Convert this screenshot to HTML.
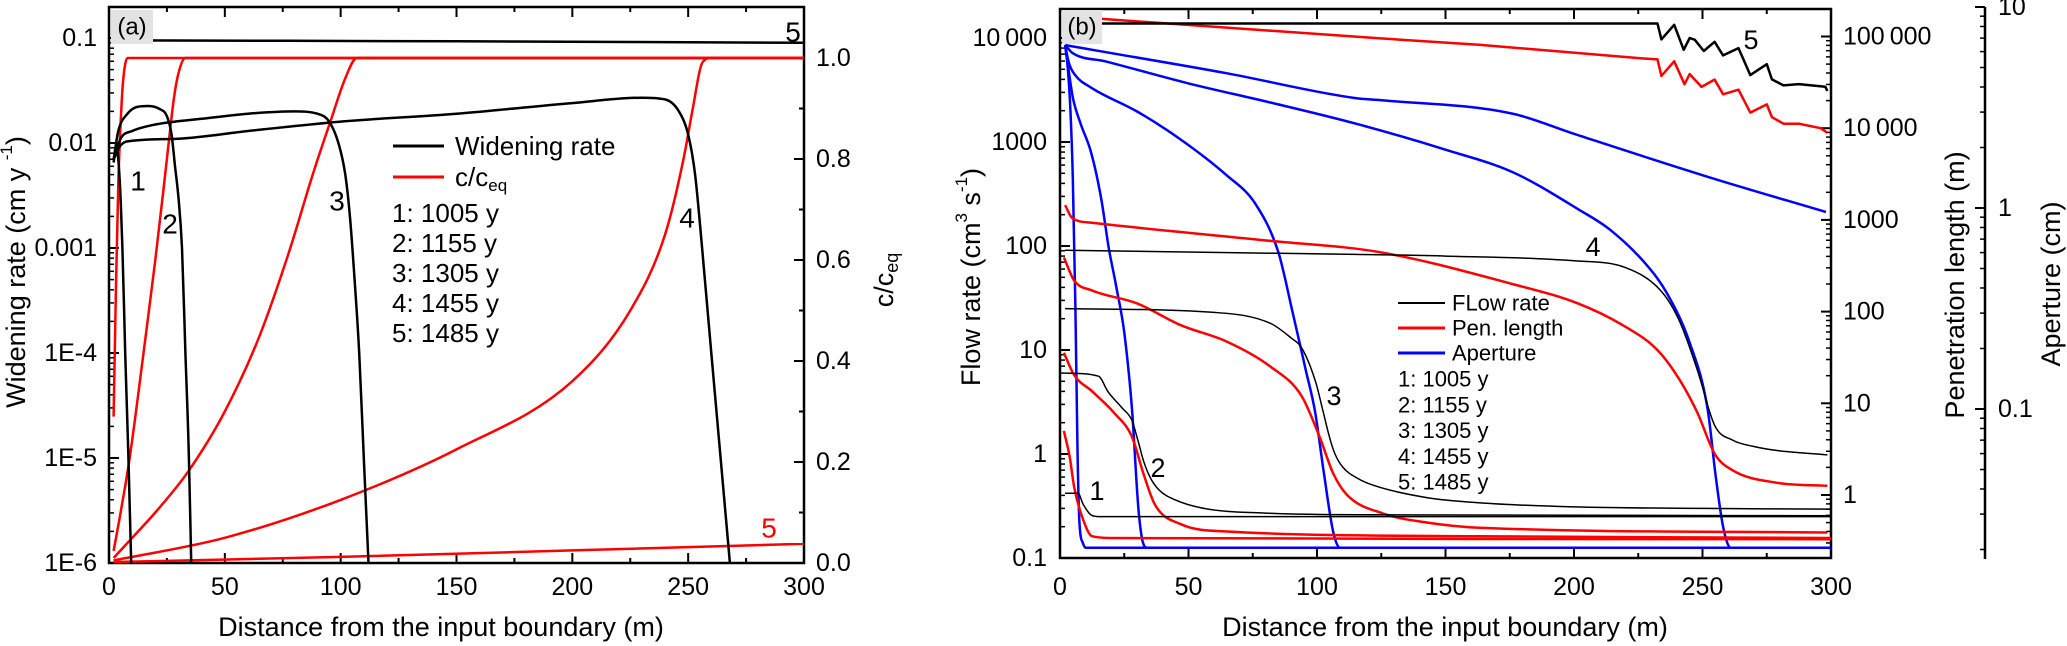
<!DOCTYPE html>
<html><head><meta charset="utf-8"><style>
html,body{margin:0;padding:0;background:#fff;}
svg{display:block;font-family:"Liberation Sans",Arial,sans-serif;}
</style></head><body>
<svg id="fig" width="2067" height="646" viewBox="0 0 2067 646" xmlns="http://www.w3.org/2000/svg">
<defs>
<clipPath id="clipA"><rect x="109" y="7" width="695" height="556"/></clipPath>
<clipPath id="clipB"><rect x="1060" y="9" width="771" height="549"/></clipPath>
</defs>
<g id="panelA"></g>
<g id="panelB"></g>
</svg>
<script>
// ---------- Panel (a) data ----------
const wr1X=[2,3,4,5,5.8,7,8.3,9.6];
const wr1Y=[0.0065,0.009,0.007,0.003,0.001,1e-4,1.2e-5,1e-6];
const wr2X=[2,4,8,12,17,22,25,27,28.5,30,31.5,33,34.5,35.5];
const wr2Y=[0.007,0.013,0.019,0.022,0.0225,0.021,0.018,0.012,0.006,0.003,0.001,1e-4,1e-5,1e-6];
const wr3X=[2,5,10,20,40,60,80,90,95,99,102,104,106,108,110,112];
const wr3Y=[0.007,0.011,0.013,0.015,0.017,0.019,0.020,0.019,0.016,0.01,0.005,0.002,5e-4,1e-4,1e-5,1e-6];
const wr4X=[2,5,10,30,60,100,150,200,230,240,246,250,253,256,260,264,268];
const wr4Y=[0.007,0.0095,0.0105,0.011,0.013,0.016,0.019,0.024,0.027,0.026,0.02,0.012,0.005,0.001,1e-4,1e-5,1e-6];
const wr5X=[4,150,300];
const wr5Y=[0.095,0.093,0.09];
const cc1X=[2,3,4,5,6,8,300];
const cc1Y=[0.29,0.55,0.75,0.87,0.95,1.0,1.0];
const cc2X=[2,5,9,15,20,25,28,30,33,300];
const cc2Y=[0.024,0.1,0.21,0.42,0.6,0.8,0.92,0.97,1.0,1.0];
const cc3X=[2,10,20,34,50,65,78,88,96,102,107,300];
const cc3Y=[0.01,0.05,0.1,0.18,0.3,0.45,0.62,0.77,0.88,0.96,1.0,1.0];
const cc4X=[2,50,100,150,200,225,240,248,252,256,260,300];
const cc4Y=[0.005,0.05,0.125,0.225,0.36,0.5,0.65,0.8,0.9,0.99,1.0,1.0];
const cc5X=[2,100,200,300];
const cc5Y=[0.002,0.012,0.025,0.038];
const xTicksA=[0,50,100,150,200,250,300];
const yTicksA=["1E-6","1E-5","1E-4","0.001","0.01","0.1"];
const cTicks=["0.0","0.2","0.4","0.6","0.8","1.0"];
// ---------- Panel (b) data ----------
const q1X=[2,7,9,12,15,300];
const q1Y=[0.42,0.42,0.33,0.26,0.25,0.25];
const q2X=[2,15,18.6,24,28,30.5,32.5,35,38.6,45,56,80,120,300];
const q2Y=[6.0,5.6,4.0,2.8,2.1,1.3,0.86,0.6,0.45,0.36,0.3,0.27,0.26,0.255];
const q3X=[2,60,82,90,94,99.5,102,104.7,107,110,116,122,143,163,200,250,300];
const q3Y=[25,23,18,13,10.5,4.9,2.8,1.5,1.0,0.75,0.58,0.5,0.38,0.34,0.31,0.30,0.295];
const q4X=[2,115,150,200,220,234,241,248,254.8,261.7,270,279,298.6];
const q4Y=[91,83,80,72,62,36.6,19,6.4,1.87,1.36,1.18,1.08,0.98];
const q5X=[2,232.5,234,239,242.7,245,247,250.5,254.7,258,264,268.6,275,277,281.5,287.5,297.8,298.6];
const q5Y=[13800,13800,9700,13400,7700,10000,9600,7500,9200,6800,8000,4400,5600,4000,3500,3600,3400,3100];
const L1X=[1.5,3.8,5.5,9,12.5,20,300];
const L1Y=[5.0,2.57,1.23,0.54,0.355,0.34,0.33];
const L2X=[1.5,5.5,12.5,21,28,32.5,37,47,65,163,300];
const L2Y=[35.5,20.4,13.5,7.9,4.3,1.7,0.78,0.48,0.40,0.355,0.34];
const L3X=[1.5,5.5,12.5,30,47,65,82,94,101,106.4,111.7,125.6,143,163,298.6];
const L3Y=[390,219,170,123,71,47,25,12,4.3,1.7,1.0,0.63,0.5,0.44,0.39];
const L4X=[2,4.7,12.5,82,124,176,201.5,219,232.5,241,248,254.8,261.7,279,298.6];
const L4Y=[1450,1050,930,590,447,200,123,71,38,18.2,7.9,2.8,1.86,1.36,1.26];
const L5X=[2,124,163,227,232.5,234,239,243,245,249.6,254.7,258,264,268.6,275,277,281.5,287.5,296,298.6];
const L5Y=[166000,95500,81300,57500,56200,37200,53700,30200,38900,28200,33900,23400,26300,14800,18200,13200,11200,11200,10000,8900];
const A1X=[2,3,4,5,6,6.8,7.5,9,10,300];
const A1Y=[6.46,5.01,3.16,1.41,0.32,0.063,0.028,0.0214,0.0204,0.0204];
const A2X=[2,5,8,12,16,19,22,25,28,30.5,32,34,300];
const A2Y=[6.46,3.55,2.63,1.91,1.12,0.63,0.40,0.24,0.1,0.032,0.0224,0.0204,0.0204];
const A3X=[2,3.5,6,12,30,47,65,76,85,90.6,95.7,99.2,102.7,106.3,109,300];
const A3Y=[6.46,5.25,4.57,3.98,3.02,2.19,1.45,1.05,0.60,0.30,0.155,0.098,0.048,0.0245,0.0204,0.0204];
const A4X=[2,5,17.6,50,80,115,150,176,202,214,228,236,245,252,255,258,261,300];
const A4Y=[6.46,5.89,5.37,4.17,3.39,2.63,1.95,1.51,0.98,0.78,0.525,0.38,0.214,0.1,0.048,0.026,0.0204,0.0204];
const A5X=[2,15.6,65,115,125,176,200,252,298];
const A5Y=[6.46,6.03,4.68,3.52,3.44,2.95,2.34,1.43,0.955];
const flowTicks=["0.1","1","10","100","1000","10\u2009000"];
const penTicks=["1","10","100","1000","10\u2009000","100\u2009000"];
const apTicks=["0.1","1","10"];

const NS="http://www.w3.org/2000/svg";
const gA=document.getElementById('panelA');
const gB=document.getElementById('panelB');
function mk(tag,attrs,parent){const e=document.createElementNS(NS,tag);for(const k in attrs)e.setAttribute(k,attrs[k]);parent.appendChild(e);return e;}
const lg=Math.log10;
const xa=d=>109+d*(695/300);
const ya=v=>563-(lg(v)+6)*105;
const yc=v=>563-v*505;
const xb=d=>1060+d*(771/300);
const yq=v=>558-(lg(v)+1)*104;
const yL=v=>495-lg(v)*91.7;
const yA=v=>208-lg(v)*201;

function smoothPath(P){
  const n=P.length;
  if(n<3){return P.map((p,i)=>(i?'L':'M')+p[0].toFixed(1)+','+p[1].toFixed(1)).join('');}
  const d=[],m=[];
  for(let i=0;i<n-1;i++){const dx=P[i+1][0]-P[i][0];d.push(dx?(P[i+1][1]-P[i][1])/dx:0);}
  m[0]=d[0];m[n-1]=d[n-2];
  for(let i=1;i<n-1;i++){m[i]=(d[i-1]*d[i]<=0)?0:(d[i-1]+d[i])/2;}
  for(let i=0;i<n-1;i++){
    if(d[i]===0){m[i]=0;m[i+1]=0;continue;}
    const a=m[i]/d[i],b=m[i+1]/d[i],s=a*a+b*b;
    if(s>9){const t=3/Math.sqrt(s);m[i]=t*a*d[i];m[i+1]=t*b*d[i];}
  }
  let s='M'+P[0][0].toFixed(1)+','+P[0][1].toFixed(1);
  for(let i=0;i<n-1;i++){
    const h=(P[i+1][0]-P[i][0])/3;
    s+='C'+(P[i][0]+h).toFixed(1)+','+(P[i][1]+m[i]*h).toFixed(1)+' '+(P[i+1][0]-h).toFixed(1)+','+(P[i+1][1]-m[i+1]*h).toFixed(1)+' '+P[i+1][0].toFixed(1)+','+P[i+1][1].toFixed(1);
  }
  return s;
}
function series(parent,xs,ys,fx,fy,color,w,name,clip,linear){
  const P=xs.map((x,i)=>[fx(x),fy(ys[i])]);
  let d;
  if(linear){d=P.map((p,i)=>(i?'L':'M')+p[0].toFixed(1)+','+p[1].toFixed(1)).join('');}
  else d=smoothPath(P);
  const p=mk('path',{d:d,fill:'none',stroke:color,'stroke-width':w,'stroke-linejoin':'round','clip-path':'url(#'+clip+')'},parent);
  
  
  return p;
}
function txt(parent,x,y,s,size,anchor,name,color){
  const t=mk('text',{x:x,y:y,'font-size':size,'text-anchor':anchor||'start','dominant-baseline':'central',fill:color||'#000'},parent);
  t.textContent=s;
  
  
  return t;
}
function ln(parent,x1,y1,x2,y2,w,color){return mk('line',{x1:x1,y1:y1,x2:x2,y2:y2,stroke:color||'#000','stroke-width':w||2},parent);}

// ================= Panel A =================
(function(){
  const g=gA;
  const fr=mk('rect',{x:109,y:7,width:695,height:556,fill:'none',stroke:'#000','stroke-width':2.5},g);
  
  
  for(let d=0;d<=300;d+=25){
    const L=(d%50===0)?10:5;
    ln(g,xa(d),563,xa(d),563-L,2); ln(g,xa(d),7,xa(d),7+L,2);
  }
  xTicksA.forEach(v=>{txt(g,xa(v),587,String(v),25,'middle','x-tick-label-a');});
  for(let e=-6;e<=-1;e++){
    ln(g,109,ya(Math.pow(10,e)),119,ya(Math.pow(10,e)),2);
    for(let m=2;m<=9;m++){const v=m*Math.pow(10,e);const y=ya(v);if(y>7)ln(g,109,y,114,y,1.5);}
  }
  yTicksA.forEach((s,i)=>{txt(g,97,ya(Math.pow(10,i-6)),s,25,'end','y-tick-label-a');});
  for(let i=0;i<=10;i++){const v=i/10;const L=(i%2===0)?10:5;ln(g,804,yc(v),804-L,yc(v),2);}
  cTicks.forEach(s=>{txt(g,816,yc(parseFloat(s)),s,25,'start','c-tick-label');});
  const t1=mk('text',{x:0,y:0,'font-size':27,'text-anchor':'middle','dominant-baseline':'central',transform:'translate(16,272) rotate(-90)'},g);
  t1.innerHTML='Widening rate (cm y <tspan dy="-10" font-size="17">-1</tspan><tspan dy="10">)</tspan>';
  
  
  const t2=mk('text',{x:0,y:0,'font-size':27,'text-anchor':'middle','dominant-baseline':'central',transform:'translate(884,280) rotate(-90)'},g);
  t2.innerHTML='c/c<tspan dy="8" font-size="18">eq</tspan>';
  
  
  txt(g,441,627,'Distance from the input boundary (m)',27,'middle','x-axis-title-a');
  series(g,cc1X,cc1Y,xa,yc,'#ff0000',2.5,'c-curve-1','clipA');
  series(g,cc2X,cc2Y,xa,yc,'#ff0000',2.5,'c-curve-2','clipA');
  series(g,cc3X,cc3Y,xa,yc,'#ff0000',2.5,'c-curve-3','clipA');
  series(g,cc4X,cc4Y,xa,yc,'#ff0000',2.5,'c-curve-4','clipA');
  series(g,cc5X,cc5Y,xa,yc,'#ff0000',2.5,'c-curve-5','clipA');
  series(g,wr1X,wr1Y,xa,ya,'#000',2.5,'widening-curve-1','clipA');
  series(g,wr2X,wr2Y,xa,ya,'#000',2.5,'widening-curve-2','clipA');
  series(g,wr3X,wr3Y,xa,ya,'#000',2.5,'widening-curve-3','clipA');
  series(g,wr4X,wr4Y,xa,ya,'#000',2.5,'widening-curve-4','clipA');
  series(g,wr5X,wr5Y,xa,ya,'#000',2.5,'widening-curve-5','clipA');
  txt(g,138,181,'1',28,'middle','curve-label-1');
  txt(g,170,224,'2',28,'middle','curve-label-2');
  txt(g,337,201,'3',28,'middle','curve-label-3');
  txt(g,687,218,'4',28,'middle','curve-label-4');
  txt(g,793,32,'5',28,'middle','curve-label-5');
  txt(g,769,528,'5',28,'middle','c-curve-label-5','#ff0000');
  const bx=mk('rect',{x:111,y:10,width:42,height:34,fill:'#e3e3e3'},g);
  
  
  txt(g,132,27,'(a)',24,'middle','panel-label-a');
  ln(g,393,146,444,146,3,'#000'); txt(g,455,146,'Widening rate',26,'start','legend-widening');
  ln(g,393,177,444,177,3,'#ff0000');
  const lc=mk('text',{x:455,y:177,'font-size':26,'dominant-baseline':'central'},g);
  lc.innerHTML='c/c<tspan dy="8" font-size="17">eq</tspan>';
  
  
  ['1: 1005 y','2: 1155 y','3: 1305 y','4: 1455 y','5: 1485 y'].forEach((s,i)=>{txt(g,392,213+i*30,s,26,'start','legend-time-'+(i+1));});
})();

// ================= Panel B =================
(function(){
  const g=gB;
  const fr=mk('rect',{x:1060,y:9,width:771,height:549,fill:'none',stroke:'#000','stroke-width':2.5},g);
  
  
  for(let d=0;d<=300;d+=25){
    const L=(d%50===0)?10:5;
    ln(g,xb(d),558,xb(d),558-L,2); ln(g,xb(d),9,xb(d),9+L,2);
  }
  [0,50,100,150,200,250,300].forEach(v=>{txt(g,xb(v),587,String(v),25,'middle','x-tick-label-b');});
  for(let e=-1;e<=4;e++){
    ln(g,1060,yq(Math.pow(10,e)),1070,yq(Math.pow(10,e)),2);
    for(let m=2;m<=9;m++){const y=yq(m*Math.pow(10,e));if(y>10)ln(g,1060,y,1065,y,1.5);}
  }
  flowTicks.forEach((s,i)=>{txt(g,1047,yq(Math.pow(10,i-1)),s,25,'end','flow-tick-label');});
  for(let e=0;e<=5;e++){
    ln(g,1831,yL(Math.pow(10,e)),1821,yL(Math.pow(10,e)),2);
    for(let m=2;m<=9;m++){const y=yL(m*Math.pow(10,e));if(y>10)ln(g,1831,y,1826,y,1.5);}
  }
  for(let m=2;m<=9;m++){const y=yL(m*0.1);if(y<557)ln(g,1831,y,1826,y,1.5);}
  penTicks.forEach((s,i)=>{txt(g,1843,yL(Math.pow(10,i)),s,25,'start','pen-tick-label');});
  const ap=ln(g,1985,7,1985,559,2.5);
  
  
  for(let e=-2;e<=0;e++){
    for(let m=1;m<=9;m++){const y=yA(m*Math.pow(10,e));if(y>=6&&y<=559)ln(g,1985,y,m===1?1975:1980,y,m===1?2:1.5);}
  }
  ln(g,1985,yA(10),1975,yA(10),2);
  apTicks.forEach((s,i)=>{txt(g,1998,yA(Math.pow(10,i-1)),s,25,'start','aperture-tick-label');});
  const t1=mk('text',{x:0,y:0,'font-size':27,'text-anchor':'middle','dominant-baseline':'central',transform:'translate(971,277) rotate(-90)'},g);
  t1.innerHTML='Flow rate (cm<tspan dy="-10" font-size="17">3</tspan><tspan dy="10"> s</tspan><tspan dy="-10" font-size="17">-1</tspan><tspan dy="10">)</tspan>';
  
  
  const t2=mk('text',{x:0,y:0,'font-size':27,'text-anchor':'middle','dominant-baseline':'central',transform:'translate(1955,285) rotate(-90)'},g);
  t2.textContent='Penetration length (m)';
  
  
  const t3=mk('text',{x:0,y:0,'font-size':27,'text-anchor':'middle','dominant-baseline':'central',transform:'translate(2051,284) rotate(-90)'},g);
  t3.textContent='Aperture (cm)';
  
  
  txt(g,1445,627,'Distance from the input boundary (m)',27,'middle','x-axis-title-b');
  series(g,A1X,A1Y,xb,yA,'#0000ff',2.5,'aperture-curve-1','clipB');
  series(g,A2X,A2Y,xb,yA,'#0000ff',2.5,'aperture-curve-2','clipB');
  series(g,A3X,A3Y,xb,yA,'#0000ff',2.5,'aperture-curve-3','clipB');
  series(g,A4X,A4Y,xb,yA,'#0000ff',2.5,'aperture-curve-4','clipB');
  series(g,A5X,A5Y,xb,yA,'#0000ff',2.5,'aperture-curve-5','clipB');
  series(g,L1X,L1Y,xb,yL,'#ff0000',2.5,'pen-curve-1','clipB');
  series(g,L2X,L2Y,xb,yL,'#ff0000',2.5,'pen-curve-2','clipB');
  series(g,L3X,L3Y,xb,yL,'#ff0000',2.5,'pen-curve-3','clipB');
  series(g,L4X,L4Y,xb,yL,'#ff0000',2.5,'pen-curve-4','clipB');
  series(g,L5X,L5Y,xb,yL,'#ff0000',2.5,'pen-curve-5','clipB',true);
  series(g,q1X,q1Y,xb,yq,'#000',1.5,'flow-curve-1','clipB');
  series(g,q2X,q2Y,xb,yq,'#000',1.5,'flow-curve-2','clipB');
  series(g,q3X,q3Y,xb,yq,'#000',1.5,'flow-curve-3','clipB');
  series(g,q4X,q4Y,xb,yq,'#000',1.5,'flow-curve-4','clipB');
  series(g,q5X,q5Y,xb,yq,'#000',2.5,'flow-curve-5','clipB',true);
  txt(g,1097,491,'1',27,'middle','curve-label-b1');
  txt(g,1158,468,'2',27,'middle','curve-label-b2');
  txt(g,1334,396,'3',27,'middle','curve-label-b3');
  txt(g,1593,247,'4',27,'middle','curve-label-b4');
  txt(g,1751,40,'5',27,'middle','curve-label-b5');
  const bx=mk('rect',{x:1062,y:10,width:40,height:34,fill:'#e3e3e3'},g);
  
  
  txt(g,1082,27,'(b)',24,'middle','panel-label-b');
  ln(g,1398,303,1445,303,2,'#000'); txt(g,1452,303,'FLow rate',22,'start','legend-flow');
  ln(g,1398,328,1445,328,3,'#ff0000'); txt(g,1452,328,'Pen. length',22,'start','legend-pen');
  ln(g,1398,353,1445,353,3,'#0000ff'); txt(g,1452,353,'Aperture',22,'start','legend-aperture');
  ['1: 1005 y','2: 1155 y','3: 1305 y','4: 1455 y','5: 1485 y'].forEach((s,i)=>{txt(g,1398,379+i*25.8,s,22,'start','legend-time-b'+(i+1));});
})();
</script>
</body></html>
